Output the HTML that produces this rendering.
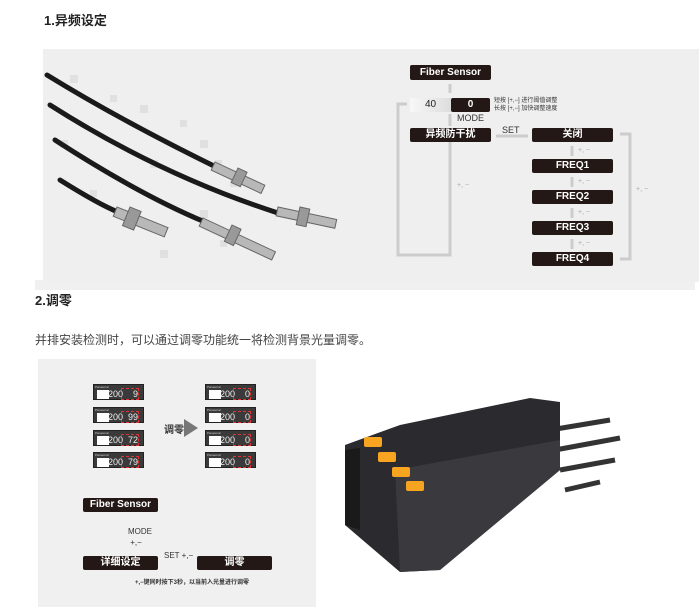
<!DOCTYPE html>
<html><head><meta charset="utf-8"><style>
body{margin:0;width:699px;height:610px;background:#fff;position:relative;overflow:hidden;font-family:"Liberation Sans","Noto Sans CJK SC",sans-serif}
.a{position:absolute}
.h{font-weight:bold;font-size:13px;color:#222}
.bx{position:absolute;background:#231815;color:#fff;font-weight:bold;font-size:10px;text-align:center;border-radius:2px}
.sm{position:absolute;font-size:7px;color:#aaa}
.d{position:absolute;width:51px;height:16px;background:#3a3a3a;border:1px solid #222;box-sizing:border-box}
.d i{position:absolute;left:1px;top:0;font-style:normal;font-size:3px;color:#ccc;line-height:4px}
.d b{position:absolute;left:3px;top:5px;width:12px;height:9px;background:#fff}
.d s{position:absolute;left:14px;top:4px;text-decoration:none;font-size:9px;color:#eee;line-height:10px}
.d u{position:absolute;right:5px;top:4px;text-decoration:none;font-size:9px;color:#eee;line-height:10px}
.d em{position:absolute;left:27px;top:3px;width:18px;height:12px;border:1px dashed #d33;box-sizing:border-box}
</style></head><body>
<div class="a h" style="left:44px;top:10px">1.异频设定</div>
<div class="a" style="left:35px;top:280px;width:660px;height:10px;background:#f0f0f0"></div>
<div class="a" style="left:43px;top:49px;width:656px;height:233px;background:#efefef"></div>
<svg class="a" style="left:0;top:0" width="699" height="610">
<g fill="#ddd" opacity=".8">
<rect x="70" y="75" width="8" height="8"/><rect x="110" y="95" width="7" height="7"/><rect x="140" y="105" width="8" height="8"/><rect x="180" y="120" width="7" height="7"/><rect x="200" y="140" width="8" height="8"/><rect x="215" y="160" width="7" height="7"/><rect x="230" y="180" width="7" height="7"/><rect x="120" y="210" width="8" height="8"/><rect x="90" y="190" width="7" height="7"/><rect x="160" y="250" width="8" height="8"/><rect x="220" y="240" width="7" height="7"/><rect x="200" y="210" width="8" height="8"/><rect x="60" y="140" width="8" height="8"/><rect x="150" y="160" width="8" height="8"/>
</g>
<g fill="none" stroke="#1a1a1a" stroke-width="5" stroke-linecap="round">
<path d="M47 75 Q120 120 218 168"/>
<path d="M50 105 Q160 175 278 213"/>
<path d="M55 140 Q140 195 205 222"/>
<path d="M60 180 Q100 205 118 212"/>
</g>
<g fill="#b8b8b8" stroke="#666" stroke-width="1">
<rect x="215" y="162" width="55" height="9" transform="rotate(25 215 162)"/>
<rect x="278" y="207" width="60" height="9" transform="rotate(12 278 207)"/>
<rect x="203" y="218" width="80" height="9" transform="rotate(25 203 218)"/>
<rect x="117" y="207" width="55" height="10" transform="rotate(22 117 207)"/>
<rect x="238" y="168" width="10" height="16" fill="#999" transform="rotate(25 238 168)"/>
<rect x="300" y="207" width="10" height="18" fill="#999" transform="rotate(12 300 207)"/>
<rect x="232" y="225" width="10" height="18" fill="#999" transform="rotate(25 232 225)"/>
<rect x="130" y="207" width="12" height="20" fill="#999" transform="rotate(22 130 207)"/>
</g>
<g stroke="#ccc" stroke-width="3" fill="none">
<path d="M450 142 V255 H398 V104 H407"/>
<path d="M620 134 H630 V259 H620"/>
<line x1="450" y1="84" x2="450" y2="93"/><line x1="450" y1="114" x2="450" y2="126"/>
<line x1="496" y1="136" x2="528" y2="136"/>
<line x1="572" y1="146" x2="572" y2="156"/><line x1="572" y1="177" x2="572" y2="187"/><line x1="572" y1="208" x2="572" y2="218"/><line x1="572" y1="239" x2="572" y2="249"/>
</g>
<g stroke="#ccc" stroke-width="3" fill="none">
<line x1="121" y1="516" x2="121" y2="552"/><line x1="162" y1="563" x2="193" y2="563"/>
</g>
<g>
<path d="M550 430 L610 420 M555 450 L620 438 M560 470 L615 460 M565 490 L600 482" stroke="#333" stroke-width="5" fill="none"/>
<polygon points="345,445 400,425 530,398 560,402 560,470 440,570 400,572 345,525" fill="#2b2b2f"/>
<polygon points="395,470 560,440 560,470 440,570 400,572" fill="#3a3a3e"/>
<polygon points="345,450 360,448 360,530 345,525" fill="#1a1a1a"/>
<rect x="364" y="437" width="18" height="10" fill="#f7a520" rx="2"/>
<rect x="378" y="452" width="18" height="10" fill="#f7a520" rx="2"/>
<rect x="392" y="467" width="18" height="10" fill="#f7a520" rx="2"/>
<rect x="406" y="481" width="18" height="10" fill="#f7a520" rx="2"/>
</g>
</svg>
<div class="bx" style="left:410px;top:65px;width:81px;height:15px;line-height:15px">Fiber Sensor</div>
<div class="a" style="left:410px;top:98px;width:41px;height:14px;line-height:14px;background:linear-gradient(90deg,#f8f8f8,#ddd);font-size:10px;text-align:center;color:#222">40</div>
<div class="bx" style="left:451px;top:98px;width:39px;height:14px;line-height:14px">0</div>
<div class="a" style="left:494px;top:97px;font-size:6px;line-height:8px;color:#333">短按 [+,−] 进行阈值调整<br>长按 [+,−] 加快调整速度</div>
<div class="a" style="left:457px;top:113px;font-size:9px;color:#333">MODE</div>
<div class="bx" style="left:410px;top:128px;width:81px;height:14px;line-height:14px">异频防干扰</div>
<div class="a" style="left:502px;top:125px;font-size:9px;color:#333">SET</div>
<div class="bx" style="left:532px;top:128px;width:81px;height:14px;line-height:14px">关闭</div>
<div class="bx" style="left:532px;top:159px;width:81px;height:14px;line-height:14px">FREQ1</div>
<div class="bx" style="left:532px;top:190px;width:81px;height:14px;line-height:14px">FREQ2</div>
<div class="bx" style="left:532px;top:221px;width:81px;height:14px;line-height:14px">FREQ3</div>
<div class="bx" style="left:532px;top:252px;width:81px;height:14px;line-height:14px">FREQ4</div>
<div class="sm" style="left:578px;top:147px">+, −</div><div class="sm" style="left:578px;top:178px">+, −</div><div class="sm" style="left:578px;top:209px">+, −</div><div class="sm" style="left:578px;top:240px">+, −</div>
<div class="sm" style="left:457px;top:182px">+, −</div><div class="sm" style="left:636px;top:186px">+, −</div>
<div class="a h" style="left:35px;top:290px">2.调零</div>
<div class="a" style="left:35px;top:331px;font-size:12px;color:#444">并排安装检测时，可以通过调零功能统一将检测背景光量调零。</div>
<div class="a" style="left:38px;top:359px;width:278px;height:248px;background:#f0f0f0"></div>
<div class="d" style="left:93px;top:384px"><i>Panasonic</i><b></b><s>200</s><u>9</u><em></em></div>
<div class="d" style="left:93px;top:407px"><i>Panasonic</i><b></b><s>200</s><u>99</u><em></em></div>
<div class="d" style="left:93px;top:430px"><i>Panasonic</i><b></b><s>200</s><u>72</u><em></em></div>
<div class="d" style="left:93px;top:452px"><i>Panasonic</i><b></b><s>200</s><u>79</u><em></em></div>
<div class="d" style="left:205px;top:384px"><i>Panasonic</i><b></b><s>200</s><u>0</u><em></em></div>
<div class="d" style="left:205px;top:407px"><i>Panasonic</i><b></b><s>200</s><u>0</u><em></em></div>
<div class="d" style="left:205px;top:430px"><i>Panasonic</i><b></b><s>200</s><u>0</u><em></em></div>
<div class="d" style="left:205px;top:452px"><i>Panasonic</i><b></b><s>200</s><u>0</u><em></em></div>
<div class="a" style="left:164px;top:421px;font-size:10px;font-weight:bold;color:#333">调零</div>
<div class="a" style="left:184px;top:419px;width:0;height:0;border-left:14px solid #777;border-top:9px solid transparent;border-bottom:9px solid transparent"></div>
<div class="bx" style="left:83px;top:498px;width:75px;height:14px;line-height:14px">Fiber Sensor</div>
<div class="a" style="left:128px;top:526px;font-size:8px;line-height:11px;color:#333">MODE<br>&nbsp;+,−</div>
<div class="a" style="left:164px;top:551px;font-size:8px;color:#333">SET +,−</div>
<div class="bx" style="left:83px;top:556px;width:75px;height:14px;line-height:14px">详细设定</div>
<div class="bx" style="left:197px;top:556px;width:75px;height:14px;line-height:14px">调零</div>
<div class="a" style="left:135px;top:577px;font-size:6px;color:#333;font-weight:bold">+,−键同时按下3秒，以当前入光量进行调零</div>
</body></html>
